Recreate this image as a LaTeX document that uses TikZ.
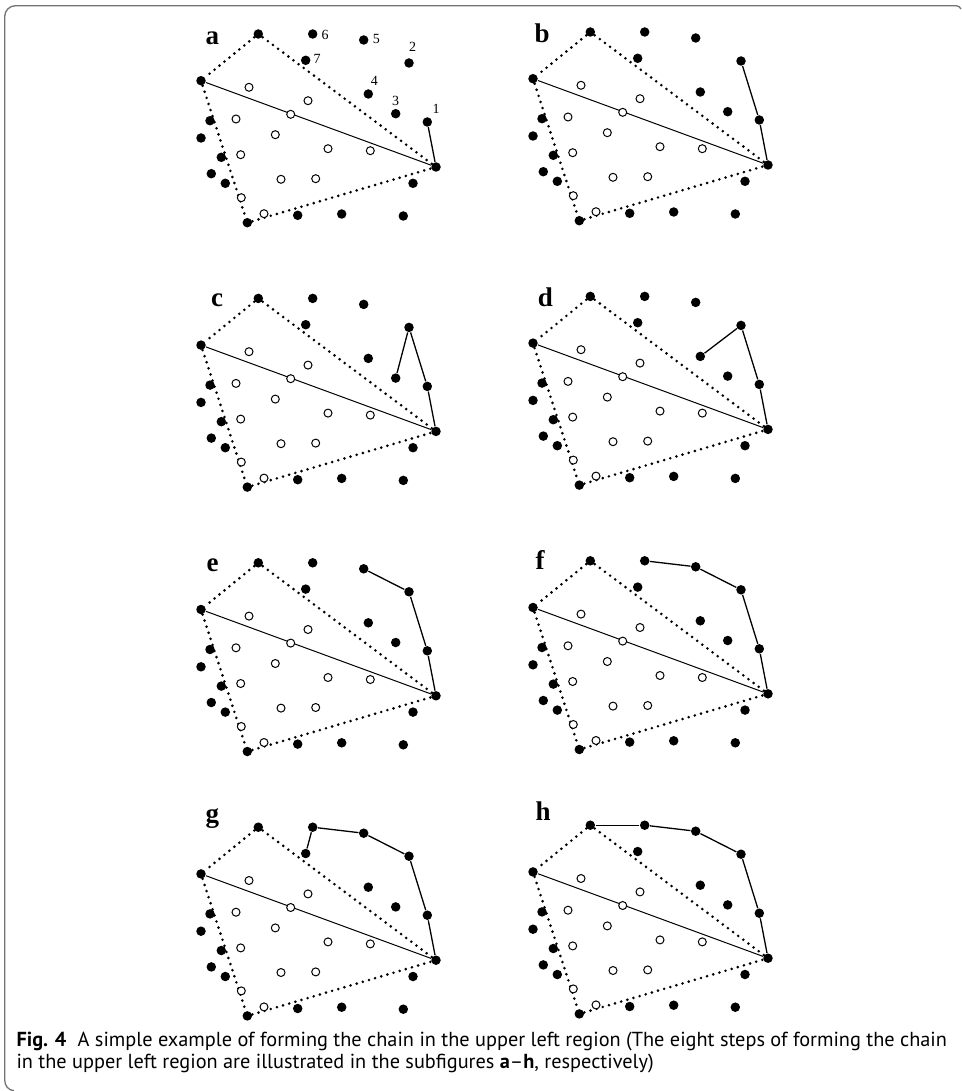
\documentclass[tikz,border=0pt]{standalone}
\usepackage{fontspec}
\setsansfont{PT Sans}
\newfontfamily\timesfont{Liberation Serif}
\usetikzlibrary{positioning, backgrounds}
\tikzset{
  every picture/.style={line width=1pt},
  dot/.style={circle, fill=black, inner sep=0pt, minimum size=9.5pt},
  hollow/.style={circle, draw=black, fill=white, line width=1pt, inner sep=0pt, minimum size=8pt},
  hull/.style={line width=2.9pt, dash pattern=on 0pt off 6.4pt, line cap=round},
  split/.style={line width=1pt},
  link/.style={line width=1.3pt},
  panel/.style={font=\timesfont\bfseries\fontsize{27}{27}\selectfont, anchor=base west, inner sep=0pt},
  num/.style={font=\timesfont\fontsize{14}{14}\selectfont, inner sep=0pt},
  caption/.style={font=\sffamily\fontsize{20.3}{22}\selectfont, anchor=base west, inner sep=0pt},
  frame/.style={draw=black!55, line width=1.3pt},
}

\begin{document}
\begin{tikzpicture}[x=1pt, y=-1pt]
  \useasboundingbox (0,0) rectangle (961,1091);
  \draw[frame] (14,1090.6) to[out=180, in=-90] (4.7,1080) -- (4.7,16.5) to[out=90, in=180] (15.5,5.7) -- (956,5.7) to[out=0, in=120] (961,9);
  % eight panels, one step of the chain each
  \foreach \p/\c/\r/\lx/\ly/\steps in {a/0/0/205/45/{1}, b/1/0/202/45/{1,2}, c/0/1/210.7/42.3/{1,2,3}, d/1/1/205.3/44.3/{1,2,4},
      e/0/2/206/42.9/{1,2,5}, f/1/2/203/43/{1,2,5,6}, g/0/3/205/29/{1,2,5,6,7}, h/1/3/203/29/{1,2,5,6,T}} {
    \begin{scope}[shift={({332*\c},{264.4*\r-2*\c})}]
      \node[panel] (\p-lab) at (\lx,\ly) {\p};
      % hull corners and the numbered points
      \node[dot] (\p-T) at (258.3,34) {};
      \node[dot] (\p-L) at (201,80.7) {};
      \node[dot] (\p-B) at (247.3,222.7) {};
      \node[dot] (\p-R) at (436,167) {};
      \foreach \n/\x/\y in {1/427.3/122, 2/409/63, 3/395.7/113.7, 4/368.3/94, 5/363.7/40, 6/312.7/34, 7/305.7/60.3}
        \node[dot] (\p-\n) at (\x,\y) {};
      % other points outside the hull
      \foreach \x/\y [count=\i] in {210/120.7, 201/138, 221.3/157.3, 211.3/173.7, 225.3/183.3, 413/183.3, 297.7/215.3, 341.7/214, 403.3/216}
        \node[dot] (\p-f\i) at (\x,\y) {};
      % points inside the hull
      \foreach \x/\y [count=\i] in {249/87.3, 308/100.7, 290.7/114.3, 236/119, 275.3/134.7, 328/148.7, 370.3/150.7, 240.7/154.7,
          281/179.3, 315.7/178.7, 241.3/197.7, 264/213.7}
        \node[hollow] (\p-o\i) at (\x,\y) {};
      \begin{scope}[on background layer]
        \draw[hull] (\p-T) -- (\p-L) -- (\p-B) -- (\p-R) -- (\p-T);
        \draw[split] (\p-L) -- (\p-R);
        \foreach \q [remember=\q as \prev (initially R)] in \steps
          \draw[link] (\p-\prev) -- (\p-\q);
      \end{scope}
    \end{scope}
  }
  % numbers in panel a
  \foreach \n/\x/\y in {1/436/109.3, 2/412.7/46.7, 3/395.7/101, 4/374.3/81, 5/376.3/39.3, 6/325/35, 7/317/58.7}
    \node[num] (n\n) at (\x,\y) {\n};
  \node[caption] (cap1) at (16,1046.7) {\textbf{Fig. 4}\hspace{0.55em}A simple example of forming the chain in the upper left region (The eight steps of forming the chain};
  \node[caption] (cap2) at (16,1068.3) {in the upper left region are illustrated in the subfigures \textbf{a}--\textbf{h}, respectively)};
\end{tikzpicture}
\end{document}
